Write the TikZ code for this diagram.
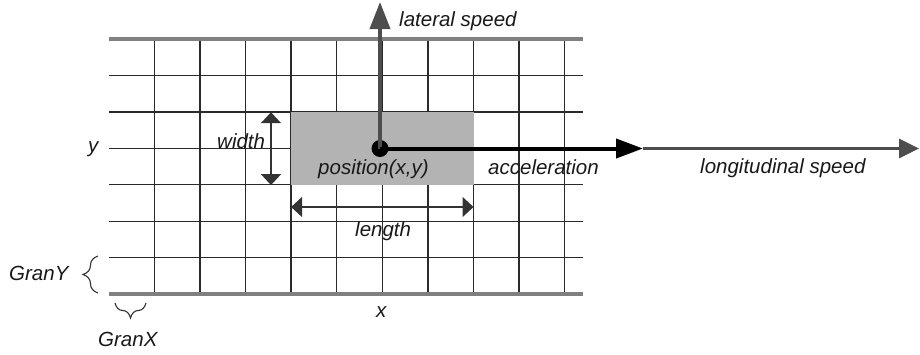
\documentclass[tikz,border=0pt]{standalone}
\usepackage{fontspec}
\setmainfont{Liberation Sans}
\usetikzlibrary{arrows.meta,decorations.pathreplacing}
\definecolor{roadgray}{HTML}{808080}
\definecolor{gridcol}{HTML}{2A2A2A}
\definecolor{cargray}{HTML}{B3B3B3}
\definecolor{speedgray}{HTML}{4D4D4D}
\definecolor{dimcol}{HTML}{333333}
\tikzset{
  lbl/.style={anchor=base west, inner sep=0pt, font=\fontsize{20.5}{24}\selectfont\itshape, text=black!90},
  gridline/.style={draw=gridcol, line width=1.3pt},
  roadline/.style={draw=roadgray, line width=4pt},
  dimarrow/.style={draw=dimcol, line width=1.6pt, {Triangle[length=11pt,width=20pt]}-{Triangle[length=11pt,width=20pt]}},
  gbrace/.style={draw=dimcol, line width=1.1pt, decorate, decoration={brace, amplitude=15pt}}
}
\begin{document}
\begin{tikzpicture}[x=1pt,y=-1pt]
\useasboundingbox (0,0) rectangle (920,354);
% grid
\foreach \i in {1,...,6} {
  \draw[gridline] (109,{39+\i*36.43}) -- (583,{39+\i*36.43});
}
\foreach \j in {0,...,9} {
  \draw[gridline] ({154.3+\j*45.6},39) -- ({154.3+\j*45.6},294);
}
\draw[roadline] (109,39) -- (583,39);
\draw[roadline] (109,294) -- (583,294);
% car
\node[fill=cargray, inner sep=0pt, minimum width=182.4pt, minimum height=72.9pt, anchor=north west] (car) at (291.1,112.2) {};
% position dot
\node[circle, fill=black, inner sep=0pt, minimum size=17pt] (pos) at (380,148.5) {};
\coordinate (latend) at (380,2);
\coordinate (accend) at (643,148.5);
\coordinate (longend) at (919,148.5);
\draw[speedgray, line width=2.7pt, -{Triangle[length=20pt,width=19pt]}] (accend) -- (longend);
\draw[speedgray, line width=3.8pt, -{Triangle[length=27pt,width=20pt]}] (pos.center) -- (latend);
\draw[black, line width=4pt, -{Triangle[length=27pt,width=19pt]}] (pos.center) -- (accend);
% dimension arrows
\coordinate (wtop) at (271,112.2);
\coordinate (wbot) at (271,185.1);
\draw[dimarrow] (wtop) -- (wbot);
\coordinate (lleft) at (291.1,207);
\coordinate (lright) at (473.5,207);
\draw[dimarrow] (lleft) -- (lright);
% braces
\coordinate (gyb) at (98,293);
\coordinate (gyt) at (98,256);
\draw[gbrace] (gyb) -- (gyt);
\coordinate (gxr) at (146,303);
\coordinate (gxl) at (115,303);
\draw[gbrace] (gxr) -- (gxl);
% labels
\node[lbl] (tlat) at (399,26) {lateral speed};
\node[lbl] (tlong) at (700,173) {longitudinal speed};
\node[lbl] (tacc) at (488,174) {acceleration};
\node[lbl] (tpos) at (318,174) {position(x,y)};
\node[lbl] (twidth) at (217,148) {width};
\node[lbl] (tlength) at (355,236) {length};
\node[lbl] (ty) at (88,152) {y};
\node[lbl] (tx) at (376,317) {x};
\node[lbl] (tgy) at (9,280) {GranY};
\node[lbl] (tgx) at (98,346) {GranX};
\end{tikzpicture}
\end{document}
